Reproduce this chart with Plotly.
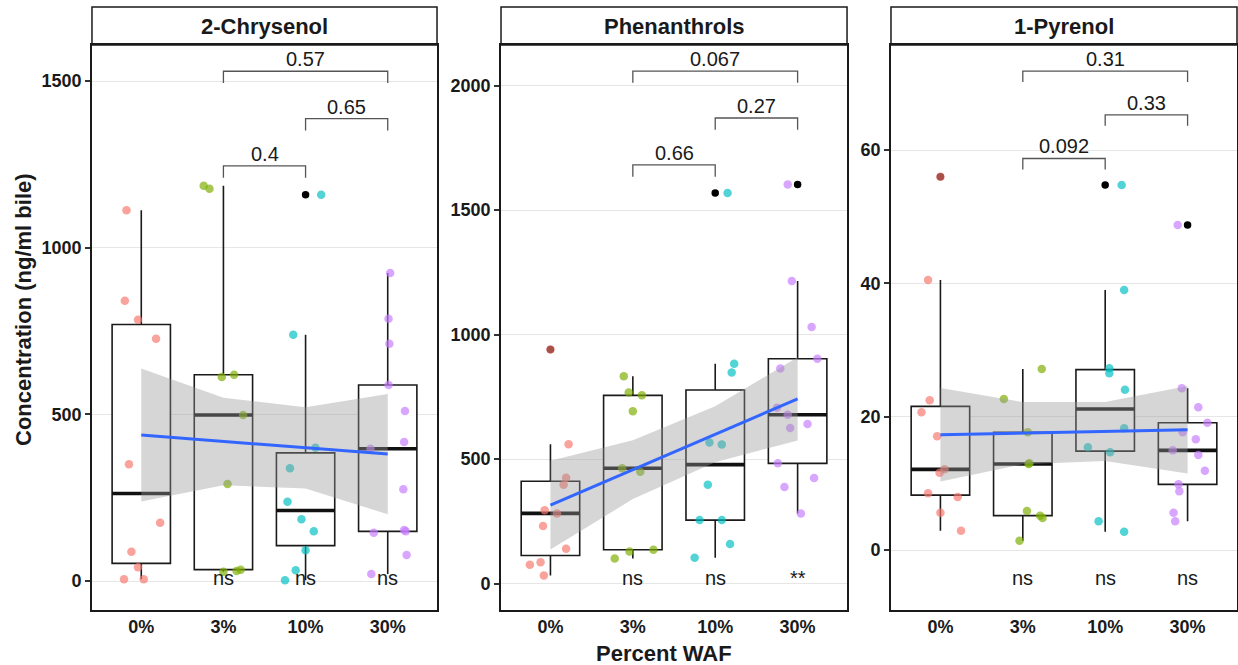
import numpy as np
import plotly.graph_objects as go

# ---- data ---------------------------------------------------------------
groups = ["0%", "3%", "10%", "30%"]
panel_titles = ["2-Chrysenol", "Phenanthrols", "1-Pyrenol"]

# 2-Chrysenol (ng/ml bile) and horizontal jitter of each fish
chr_0 = [1112, 841, 784, 727, 350, 175, 88, 41, 5, 5]
chr_3 = [1186, 1177, 619, 612, 498, 291, 34, 30, 28]
chr_10 = [1159, 739, 400, 338, 238, 185, 149, 92, 32, 2]
chr_30 = [924, 787, 712, 588, 510, 417, 397, 275, 153, 149, 145, 78, 21]
chr_0_jit = [-0.18, -0.20, -0.04, 0.18, -0.15, 0.23, -0.12, -0.04, -0.21, 0.03]
chr_3_jit = [-0.24, -0.17, 0.13, -0.02, 0.24, 0.05, 0.21, 0.16, 0.00]
chr_10_jit = [0.19, -0.15, 0.12, -0.19, -0.22, -0.05, 0.10, 0.00, -0.12, -0.25]
chr_30_jit = [0.03, 0.01, 0.02, 0.01, 0.21, 0.20, -0.21, 0.19, 0.20, 0.22, -0.17, 0.23, -0.20]

# Phenanthrols (ng/ml bile)
phe_0 = [940, 560, 425, 397, 295, 282, 231, 140, 86, 76, 33]
phe_3 = [833, 768, 756, 692, 463, 449, 136, 129, 101]
phe_10 = [1569, 883, 848, 567, 559, 397, 255, 255, 159, 104]
phe_30 = [1603, 1215, 1031, 903, 864, 706, 678, 641, 625, 483, 424, 388, 282]
phe_0_jit = [0.00, 0.22, 0.19, 0.16, -0.07, 0.08, -0.09, 0.19, -0.12, -0.25, -0.08]
phe_3_jit = [-0.11, -0.05, 0.11, 0.00, -0.13, 0.09, 0.25, -0.04, -0.22]
phe_10_jit = [0.15, 0.23, 0.20, -0.07, 0.08, -0.09, -0.19, 0.08, 0.18, -0.25]
phe_30_jit = [-0.12, -0.07, 0.17, 0.24, -0.21, -0.25, -0.12, 0.12, -0.09, -0.24, 0.20, -0.16, 0.04]

# 1-Pyrenol (ng/ml bile)
pyr_0 = [56.0, 40.5, 22.45, 20.65, 17.05, 12.1, 11.6, 8.5, 7.95, 5.6, 2.9]
pyr_3 = [27.15, 22.65, 17.65, 13.0, 12.9, 5.85, 5.15, 4.8, 1.4]
pyr_10 = [54.75, 39.0, 27.25, 26.5, 24.05, 18.25, 15.4, 14.65, 4.3, 2.75]
pyr_30 = [48.75, 24.25, 21.4, 19.1, 17.65, 16.6, 14.95, 14.25, 11.9, 9.85, 8.8, 5.6, 4.3]
pyr_0_jit = [0.00, -0.15, -0.13, -0.23, -0.04, 0.05, -0.01, -0.15, 0.21, 0.00, 0.25]
pyr_3_jit = [0.23, -0.23, 0.06, 0.08, 0.07, 0.05, 0.21, 0.24, -0.04]
pyr_10_jit = [0.20, 0.23, 0.05, 0.05, 0.24, 0.23, -0.21, 0.06, -0.08, 0.23]
pyr_30_jit = [-0.12, -0.07, 0.13, 0.24, -0.06, 0.10, -0.18, 0.13, 0.21, -0.11, -0.10, -0.17, -0.15]

# pairwise comparisons (group index pairs) and their p-values
comparisons = [(2, 3), (3, 4), (2, 4)]
chr_pvals = ["0.4", "0.65", "0.57"]
phe_pvals = ["0.66", "0.27", "0.067"]
pyr_pvals = ["0.092", "0.33", "0.31"]

# significance of each exposed group against the 0% control
chr_sig = ["ns", "ns", "ns"]
phe_sig = ["ns", "ns", "**"]
pyr_sig = ["ns", "ns", "ns"]

y_ticks = [[0, 500, 1000, 1500], [0, 500, 1000, 1500, 2000], [0, 20, 40, 60]]
y_ranges = [[-87, 1608], [-106, 2163], [-9, 75.75]]

# ---- assemble panels ------------------------------------------------------
panels = [
    dict(values=[chr_0, chr_3, chr_10, chr_30],
         jitter=[chr_0_jit, chr_3_jit, chr_10_jit, chr_30_jit],
         pvals=chr_pvals, sig=chr_sig),
    dict(values=[phe_0, phe_3, phe_10, phe_30],
         jitter=[phe_0_jit, phe_3_jit, phe_10_jit, phe_30_jit],
         pvals=phe_pvals, sig=phe_sig),
    dict(values=[pyr_0, pyr_3, pyr_10, pyr_30],
         jitter=[pyr_0_jit, pyr_3_jit, pyr_10_jit, pyr_30_jit],
         pvals=pyr_pvals, sig=pyr_sig),
]

hue = ["#F8766D", "#7CAE00", "#00BFC4", "#C77CFF"]
FONT = "Liberation Sans, Arial, sans-serif"
x_domains = [[0.0743, 0.3530], [0.4047, 0.6842], [0.7197, 0.9992]]
y_domain = [0.0827, 0.9323]
strip_top = 0.9895
BOX_W = 0.71


def t975(df):
    z = 1.959964
    return (z + (z ** 3 + z) / (4 * df)
            + (5 * z ** 5 + 16 * z ** 3 + 3 * z) / (96 * df ** 2)
            + (3 * z ** 7 + 19 * z ** 5 + 17 * z ** 3 - 15 * z) / (384 * df ** 3))


def rgba(hexcol, a):
    h = hexcol.lstrip("#")
    return "rgba(%d,%d,%d,%s)" % (int(h[0:2], 16), int(h[2:4], 16), int(h[4:6], 16), a)


fig = go.Figure()
shapes = []
annotations = []

for p, panel in enumerate(panels):
    sfx = "" if p == 0 else str(p + 1)
    xa, ya = "x" + sfx, "y" + sfx
    pos = [1, 2, 3, 4]

    q1s, meds, q3s, lows, highs = [], [], [], [], []
    out_x, out_y = [], []
    for k, vals in enumerate(panel["values"]):
        v = np.asarray(vals, dtype=float)
        q1, med, q3 = np.percentile(v, [25, 50, 75])
        iqr = q3 - q1
        inside = v[(v >= q1 - 1.5 * iqr) & (v <= q3 + 1.5 * iqr)]
        q1s.append(q1); meds.append(med); q3s.append(q3)
        lows.append(inside.min()); highs.append(inside.max())
        outl = v[(v < q1 - 1.5 * iqr) | (v > q3 + 1.5 * iqr)]
        out_x += [pos[k]] * len(outl)
        out_y += list(outl)

    # boxes
    fig.add_trace(go.Box(
        x=pos, q1=q1s, median=meds, q3=q3s, lowerfence=lows, upperfence=highs,
        width=BOX_W, whiskerwidth=0, boxpoints=False, fillcolor="white",
        line=dict(color="#1a1a1a", width=1.6), xaxis=xa, yaxis=ya,
        showlegend=False, hoverinfo="skip"))
    # thick median bars
    mx, my = [], []
    for k in range(4):
        mx += [pos[k] - BOX_W / 2, pos[k] + BOX_W / 2, None]
        my += [meds[k], meds[k], None]
    fig.add_trace(go.Scatter(x=mx, y=my, mode="lines",
                             line=dict(color="#111111", width=3.6),
                             xaxis=xa, yaxis=ya, showlegend=False, hoverinfo="skip"))
    # outliers
    fig.add_trace(go.Scatter(x=out_x, y=out_y, mode="markers",
                             marker=dict(color="black", size=7.5),
                             xaxis=xa, yaxis=ya, showlegend=False, hoverinfo="skip"))
    # jittered observations
    for k, vals in enumerate(panel["values"]):
        fig.add_trace(go.Scatter(
            x=[pos[k] + j for j in panel["jitter"][k]], y=vals, mode="markers",
            marker=dict(color=rgba(hue[k], 0.68), size=8.5, line=dict(width=0)),
            xaxis=xa, yaxis=ya, showlegend=False, name=groups[k]))

    # linear trend with 95% confidence band, evaluated at the group positions
    xs = np.concatenate([[pos[k]] * len(v) for k, v in enumerate(panel["values"])]).astype(float)
    ys = np.concatenate([np.asarray(v, float) for v in panel["values"]])
    n = len(xs)
    xbar = xs.mean()
    sxx = ((xs - xbar) ** 2).sum()
    slope = ((xs - xbar) * (ys - ys.mean())).sum() / sxx
    icpt = ys.mean() - slope * xbar
    resid = ys - (icpt + slope * xs)
    s = np.sqrt((resid ** 2).sum() / (n - 2))
    xg = np.array(pos, dtype=float)
    fit = icpt + slope * xg
    se = s * np.sqrt(1.0 / n + (xg - xbar) ** 2 / sxx)
    tq = t975(n - 2)
    upper, lower = fit + tq * se, fit - tq * se
    fig.add_trace(go.Scatter(
        x=list(xg) + list(xg[::-1]), y=list(upper) + list(lower[::-1]),
        fill="toself", fillcolor="rgba(153,153,153,0.4)", line=dict(width=0),
        mode="lines", xaxis=xa, yaxis=ya, showlegend=False, hoverinfo="skip"))
    fig.add_trace(go.Scatter(x=xg, y=fit, mode="lines",
                             line=dict(color="#3366FF", width=3),
                             xaxis=xa, yaxis=ya, showlegend=False, hoverinfo="skip"))

    # comparison brackets stacked above the data
    allv = ys
    rng = allv.max() - allv.min()
    tip = 0.03 * rng
    for c, (a, b) in enumerate(comparisons):
        yb = allv.max() + 0.05 * rng + 0.12 * rng * c
        fig.add_trace(go.Scatter(x=[a, a, b, b], y=[yb - tip, yb, yb, yb - tip],
                                 mode="lines", line=dict(color="#555555", width=1.3),
                                 xaxis=xa, yaxis=ya, showlegend=False, hoverinfo="skip"))
        annotations.append(dict(x=(a + b) / 2, y=yb, xref=xa, yref=ya,
                                text=panel["pvals"][c], showarrow=False,
                                xanchor="center", yanchor="middle", yshift=12,
                                font=dict(family=FONT, size=20, color="#1a1a1a")))

    # significance against control
    for k in range(1, 4):
        annotations.append(dict(x=pos[k], y=0.1308, xref=xa, yref="paper",
                                text=panel["sig"][k - 1], showarrow=False,
                                xanchor="center", yanchor="middle",
                                font=dict(family=FONT, size=20, color="#1a1a1a")))

    # strip header
    d0, d1 = x_domains[p]
    shapes.append(dict(type="rect", xref="paper", yref="paper", x0=d0, x1=d1,
                       y0=y_domain[1], y1=strip_top, fillcolor="white",
                       line=dict(color="#1a1a1a", width=1.5), layer="below"))
    annotations.append(dict(x=(d0 + d1) / 2, y=(y_domain[1] + strip_top) / 2,
                            xref="paper", yref="paper", text="<b>%s</b>" % panel_titles[p],
                            showarrow=False, xanchor="center", yanchor="middle",
                            font=dict(family=FONT, size=22, color="#1a1a1a")))

    axis_common = dict(showline=True, mirror=True, linecolor="#1a1a1a", linewidth=1.6,
                       zeroline=False)
    fig.update_layout(**{
        "xaxis" + sfx: dict(domain=x_domains[p], range=[0.4, 4.6], tickvals=pos,
                            ticktext=groups, showgrid=False, ticks="",
                            anchor=ya,
                            tickfont=dict(family=FONT, size=18, color="#1a1a1a",
                                          weight="bold"),
                            **axis_common),
        "yaxis" + sfx: dict(domain=y_domain, range=y_ranges[p], tickvals=y_ticks[p],
                            showgrid=True, gridcolor="#E6E6E6", gridwidth=1,
                            ticks="outside", ticklen=5, tickwidth=1.5,
                            tickcolor="#333333", anchor=xa,
                            tickfont=dict(family=FONT, size=18, color="#1a1a1a",
                                          weight="bold"),
                            **axis_common),
    })

annotations.append(dict(x=0.5367, y=(665 - 653) / 665, xref="paper", yref="paper",
                        text="<b>Percent WAF</b>", showarrow=False,
                        xanchor="center", yanchor="middle",
                        font=dict(family=FONT, size=22, color="#1a1a1a")))
annotations.append(dict(x=23 / 1238, y=(665 - 310) / 665, xref="paper", yref="paper",
                        text="<b>Concentration (ng/ml bile)</b>", showarrow=False,
                        textangle=-90, xanchor="center", yanchor="middle",
                        font=dict(family=FONT, size=22, color="#1a1a1a")))

fig.update_layout(width=1238, height=665, margin=dict(l=0, r=0, t=0, b=0),
                  paper_bgcolor="white", plot_bgcolor="white",
                  shapes=shapes, annotations=annotations, showlegend=False)

fig.write_html("out.html")
